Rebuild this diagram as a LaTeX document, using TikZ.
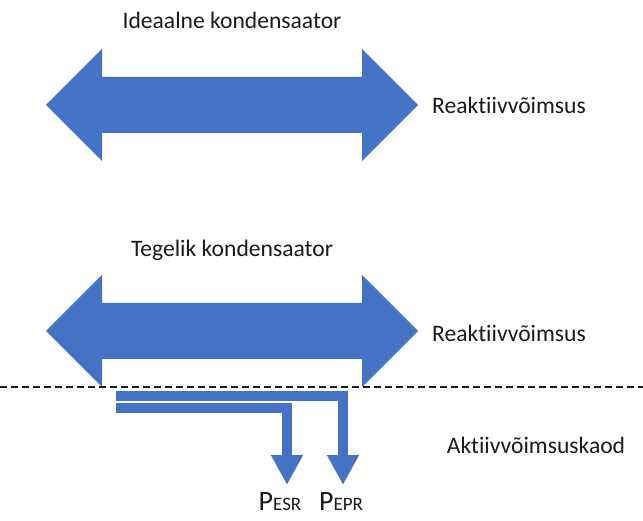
\documentclass[tikz,border=0pt]{standalone}
\usepackage{fontspec}
\setmainfont[Ligatures=NoCommon]{Carlito}
\usetikzlibrary{arrows.meta, positioning}
\definecolor{kblue}{HTML}{4472C4}
\definecolor{ink}  {HTML}{1A1A1A}
\tikzset{
  lbl/.style    = {font=\fontsize{23.6}{26}\selectfont, text=ink, inner sep=0pt},
  plbl/.style   = {font=\fontsize{28}{30}\selectfont, text=ink, inner sep=0pt, anchor=north},
  loss/.style   = {draw=kblue, line width=10pt,
                   -{Triangle[width=30pt, length=30pt]}},
  split/.style  = {draw=ink, line width=1.2pt, dash pattern=on 7pt off 4pt},
  bigarrow/.pic = {
    \fill[kblue] (-186,0) -- (-130,-56) -- (-130,-28) -- (130,-28)
      -- (130,-56) -- (186,0) -- (130,56) -- (130,28) -- (-130,28)
      -- (-130,56) -- cycle;
  },
}
\newcommand{\sm}[1]{{\fontsize{19}{20}\selectfont #1}}
\begin{document}
\begin{tikzpicture}[x=1pt, y=-1pt]
  \useasboundingbox (0,0) rectangle (643,521);

  % ideal capacitor
  \node[lbl] (ideal) at (232,20) {Ideaalne kondensaator};
  \pic at (232,105) {bigarrow};
  \node[lbl] (reak1) at (509,105) {Reaktiivvõimsus};

  % real capacitor
  \node[lbl] (real) at (232,250) {Tegelik kondensaator};
  \pic at (232,331) {bigarrow};
  \node[lbl] (reak2) at (509,333) {Reaktiivvõimsus};

  \coordinate (lineL) at (0,387);
  \coordinate (lineR) at (643,387);
  \draw[split] (lineL) -- (lineR);

  % losses
  \node[lbl] (kaod) at (536,445) {Aktiivvõimsuskaod};
  \node[plbl] (pesr) at (280,492) {P\sm{ESR}};
  \node[plbl] (pepr) at (341,492) {P\sm{EPR}};
  \coordinate (eprstart) at (116,396);
  \coordinate (esrstart) at (116,408);
  \coordinate (eprend) at (343,485);
  \coordinate (esrend) at (287,485);
  \draw[loss] (eprstart) -| (eprend);
  \draw[loss] (esrstart) -| (esrend);
\end{tikzpicture}
\end{document}
